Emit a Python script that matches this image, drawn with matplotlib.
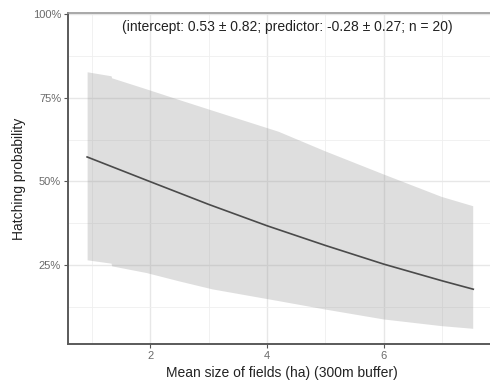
import matplotlib
matplotlib.use("Agg")
import matplotlib.pyplot as plt
from matplotlib.ticker import FixedLocator, FuncFormatter

plt.rcParams['font.family'] = ['Liberation Sans', 'DejaVu Sans']

# Fitted hatching probability along mean field size
line_x = [0.92, 2.0, 3.0, 4.0, 5.0, 6.0, 7.0, 7.53]
line_p = [0.573, 0.499, 0.431, 0.367, 0.308, 0.252, 0.202, 0.177]

# Confidence band around the fit
band_x = [0.92, 1.33, 1.34, 1.93, 2.49, 3.06, 4.19, 4.98, 5.99, 6.98, 7.52]
band_hi = [0.828, 0.816, 0.810, 0.777, 0.745, 0.713, 0.650, 0.592, 0.522, 0.455, 0.427]
band_lo = [0.265, 0.255, 0.247, 0.227, 0.202, 0.178, 0.143, 0.118, 0.088, 0.068, 0.060]

x_ticks = [2, 4, 6]
x_minor = [1, 3, 5, 7]
y_ticks = [0.25, 0.50, 0.75, 1.00]
y_minor = [0.125, 0.375, 0.625, 0.875]

label_text = "(intercept: 0.53 \u00b1 0.82; predictor: -0.28 \u00b1 0.27; n = 20)"

fig = plt.figure(figsize=(4.9, 3.85), dpi=100)
ax = fig.add_axes([68 / 490, 41 / 385, 1 - 68 / 490 + 0.01, (344 - 13) / 385])

ax.set_xlim(0.593, 7.9)
ax.set_ylim(0.013, 1.004)

# grid
for v in x_ticks:
    ax.axvline(v, color='#e7e7e7', lw=1.0, zorder=0)
for v in x_minor:
    ax.axvline(v, color='#efefef', lw=0.6, zorder=0)
for v in y_ticks:
    ax.axhline(v, color='#e7e7e7', lw=1.0, zorder=0)
for v in y_minor:
    ax.axhline(v, color='#efefef', lw=0.6, zorder=0)

ax.fill_between(band_x, band_lo, band_hi, color='#999999', alpha=0.32, lw=0, zorder=1)
ax.plot(line_x, line_p, color='#4a4a4a', lw=1.2, zorder=2)

ax.text(0.513, 0.957, label_text, transform=ax.transAxes, ha='center', va='center',
        fontsize=10, color='#222222')

ax.xaxis.set_major_locator(FixedLocator(x_ticks))
ax.yaxis.set_major_locator(FixedLocator(y_ticks))
ax.yaxis.set_major_formatter(FuncFormatter(lambda v, p: f"{v * 100:.0f}%"))
ax.tick_params(axis='both', length=3, width=0.8, color='#555555',
               labelsize=8, labelcolor='#6a6a6a', pad=2)

ax.set_xlabel("Mean size of fields (ha) (300m buffer)", fontsize=10, color='#222222', labelpad=4)
ax.set_ylabel("Hatching probability", fontsize=10, color='#222222', labelpad=5)

for side in ['left', 'bottom']:
    ax.spines[side].set_color('#5a5a5a')
    ax.spines[side].set_linewidth(1.4)
for side in ['top', 'right']:
    ax.spines[side].set_color('#9a9a9a')
    ax.spines[side].set_linewidth(1.2)

fig.savefig("out.png", dpi=100)
